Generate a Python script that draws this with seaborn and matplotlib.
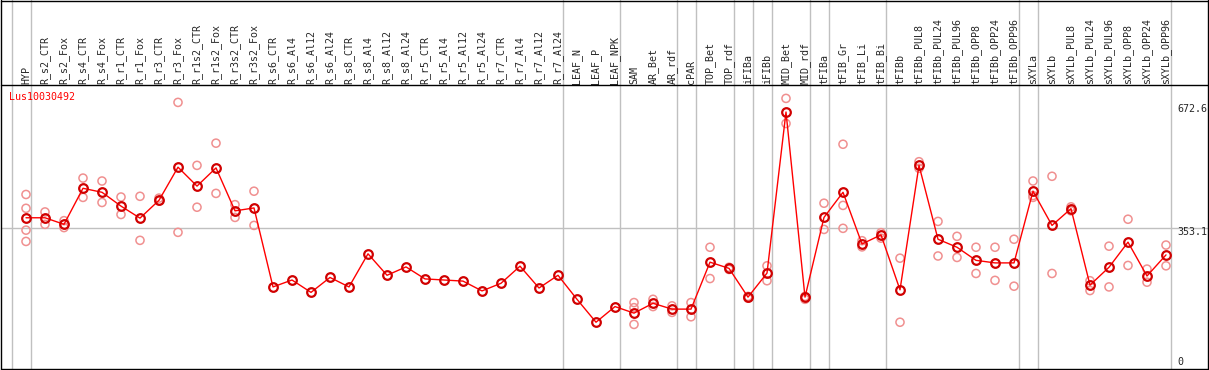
import numpy as np
import pandas as pd
import matplotlib
matplotlib.use('Agg')
import matplotlib.pyplot as plt
import seaborn as sns

# Data
labels = ['HYP', 'R_s2_CTR', 'R_s2_Fox', 'R_s4_CTR', 'R_s4_Fox', 'R_r1_CTR', 'R_r1_Fox',
          'R_r3_CTR', 'R_r3_Fox', 'R_r1s2_CTR', 'R_r1s2_Fox', 'R_r3s2_CTR', 'R_r3s2_Fox',
          'R_s6_CTR', 'R_s6_Al4', 'R_s6_Al12', 'R_s6_Al24', 'R_s8_CTR', 'R_s8_Al4',
          'R_s8_Al12', 'R_s8_Al24', 'R_r5_CTR', 'R_r5_Al4', 'R_r5_Al12', 'R_r5_Al24',
          'R_r7_CTR', 'R_r7_Al4', 'R_r7_Al12', 'R_r7_Al24', 'LEAF_N', 'LEAF_P', 'LEAF_NPK',
          'SAM', 'AR_Bet', 'AR_rdf', 'cPAR', 'TOP_Bet', 'TOP_rdf', 'iFIBa', 'iFIBb',
          'MID_Bet', 'MID_rdf', 'tFIBa', 'tFIB_Gr', 'tFIB_Li', 'tFIB_Bi', 'tFIBb',
          'tFIBb_PUL8', 'tFIBb_PUL24', 'tFIBb_PUL96', 'tFIBb_OPP8', 'tFIBb_OPP24',
          'tFIBb_OPP96', 'sXYLa', 'sXYLb', 'sXYLb_PUL8', 'sXYLb_PUL24', 'sXYLb_PUL96',
          'sXYLb_OPP8', 'sXYLb_OPP24', 'sXYLb_OPP96']

means = [382, 382, 364, 463, 452, 414, 381, 430, 521, 469, 519, 401, 409,
         192, 211, 177, 218, 192, 283, 224, 247, 214, 211, 208, 181,
         202, 249, 189, 224, 158, 95, 138,
         120, 147, 131, 131, 260, 243, 164, 230,
         672.6, 164, 383, 452, 310, 335, 184,
         526, 323, 301, 265, 258, 258,
         455, 361, 407, 197, 246, 315, 222, 280]

replicates = [[446, 408, 348, 317], [398, 364], [374, 355], [491, 438], [483, 424],
              [439, 391], [441, 320], [436, 428], [699, 342], [526, 411], [587, 449],
              [418, 383], [455, 361],
              [], [], [], [], [], [], [], [], [], [], [], [], [], [], [], [], [], [], [],
              [149, 135, 89], [158, 138], [140, 122], [149, 110], [301, 215], [246, 240],
              [166, 161], [250, 209], [710, 641], [166, 158], [422, 350],
              [584, 416, 353], [319, 302], [341, 326], [271, 95],
              [536, 518], [372, 277], [331, 273], [301, 229], [301, 210], [323, 194],
              [483, 443, 438], [496, 229], [412, 401], [209, 182], [304, 192],
              [378, 251], [241, 205], [307, 250]]

# sizes of the sample groups separated by grey lines
group_sizes = [1, 28, 3, 3, 1, 2, 1, 1, 2, 1, 3, 7, 1, 7]

gene = 'Lus10030492'
y_max = 672.6
y_mid = 353.1

df_mean = pd.DataFrame({'x': np.arange(len(labels)), 'val': means})
df_rep = pd.DataFrame([(i, v) for i, reps in enumerate(replicates) for v in reps],
                      columns=['x', 'val'])

# layout in pixels
W, H = 1209, 370
x0_px, step_px = 26, 19
zero_px, max_px = 356.8, 112
k = y_max / (zero_px - max_px)


def px_x(px):
    return (px - x0_px) / step_px


def px_y(py):
    return (zero_px - py) * k


sns.set_style('white')
plt.rcParams['font.family'] = ['DejaVu Sans Mono']

fig = plt.figure(figsize=(W / 100, H / 100), dpi=100)
ax = fig.add_axes([0, 0, 1, 1])
ax.set_xlim(px_x(0), px_x(W))
ax.set_ylim(px_y(H), px_y(0))
ax.axis('off')

grey = '#c0c0c0'
# group separators
ends = np.cumsum([0] + group_sizes) - 1
for e in ends:
    ax.axvline(e + 5 / step_px, color=grey, lw=1, zorder=1)
ax.plot([px_x(1), px_x(1207)], [y_mid, y_mid], color=grey, lw=1, zorder=1)

# borders
for py in [0.5, 85, 369]:
    ax.plot([px_x(1), px_x(1207.5)], [px_y(py)] * 2, color='black', lw=1, zorder=5)
for px in [1, 1207.5]:
    ax.plot([px_x(px)] * 2, [px_y(0), px_y(369)], color='black', lw=1, zorder=5)

sns.scatterplot(data=df_rep, x='x', y='val', ax=ax, marker='o', s=34,
                facecolor='none', edgecolor='#f09090', linewidth=1.1, zorder=2)
sns.lineplot(data=df_mean, x='x', y='val', ax=ax, color='red', lw=1, marker='o',
             markersize=6.2, markerfacecolor='none', markeredgecolor='#d00000',
             markeredgewidth=1.6, zorder=3)

for i, lab in enumerate(labels):
    ax.text(i, px_y(83.5), lab, rotation=90, ha='center', va='bottom', fontsize=7.2)

ax.text(px_x(9), px_y(97.5), gene, color='red', ha='left', va='center', fontsize=7.2)

for val, off in [(y_max, 3), (y_mid, -4), (0, -5.5)]:
    ax.annotate(f'{val:g}', (px_x(1177), val), xytext=(0, off * 0.72),
                textcoords='offset points', ha='left', va='center', fontsize=7.2)

ax.set_xlabel('')
ax.set_ylabel('')
fig.savefig('out.png', dpi=100)
